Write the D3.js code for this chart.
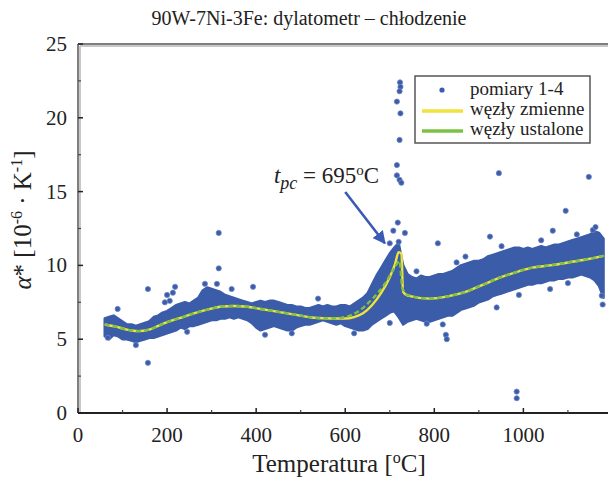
<!DOCTYPE html>
<html><head><meta charset="utf-8">
<script src="https://cdn.jsdelivr.net/npm/d3@7"></script>
<style>
body{margin:0;background:#fff;}
svg{display:block;}
text{font-family:"Liberation Serif","Times New Roman",serif;fill:#222;}
</style>
</head><body>
<svg id="c" width="608" height="477"></svg>
<script>
// ---- data ----
const title = "90W-7Ni-3Fe: dylatometr – chłodzenie";
const xTicks = [0, 200, 400, 600, 800, 1000];
const xMinor = [100, 300, 500, 700, 900, 1100];
const yTicks = [0, 5, 10, 15, 20, 25];
const yMinor = [2.5, 7.5, 12.5, 17.5, 22.5];

// dense measurement band (pomiary 1-4): lower / upper envelope
const bandT  = [60,70,80,90,100,110,120,130,140,150,160,170,180,190,200,210,220,230,240,250,260,270,280,290,300,310,320,330,340,350,360,370,380,390,400,410,420,430,440,450,460,470,480,490,500,510,520,530,540,550,560,570,580,590,600,610,620,630,640,650,660,670,680,690,700,710,720,730,740,750,760,770,780,790,800,810,820,830,840,850,860,870,880,890,900,910,920,930,940,950,960,970,980,990,1000,1010,1020,1030,1040,1050,1060,1070,1080,1090,1100,1110,1120,1130,1140,1150,1160,1170,1180];
const bandLo = [5.2,5.0,5.3,5.2,5.0,5.0,4.9,4.8,4.9,5.0,5.1,5.1,5.2,5.3,5.4,5.5,5.6,5.8,5.7,5.9,5.9,6.0,6.1,6.2,6.3,6.3,6.4,6.4,6.5,6.4,6.5,6.4,6.3,6.1,5.8,5.6,5.7,5.8,5.9,5.8,5.7,5.6,5.6,5.8,5.9,6.0,6.0,6.1,6.2,6.3,6.2,6.1,6.0,6.1,5.9,5.8,5.7,5.6,5.6,5.7,6.0,6.2,6.4,6.6,6.8,6.9,6.5,6.0,6.2,6.3,6.4,6.3,6.2,6.2,6.3,6.4,6.5,6.6,6.6,6.8,7.0,7.1,7.2,7.3,7.5,7.6,7.7,7.9,8.0,8.1,8.2,8.3,8.4,8.5,8.6,8.7,8.7,8.8,8.8,8.9,9.0,9.0,9.1,9.1,9.2,9.2,9.3,9.4,9.3,9.2,9.0,8.6,7.8];
const bandHi = [6.4,6.5,6.6,6.4,6.2,6.0,6.0,5.9,6.0,6.1,6.2,6.5,6.6,6.8,6.9,7.1,7.3,7.4,7.5,7.4,7.6,7.8,8.3,8.5,8.4,8.3,8.2,8.0,7.9,7.8,7.7,7.6,7.5,7.4,7.5,7.6,7.5,7.6,7.6,7.5,7.4,7.3,7.3,7.2,7.2,7.1,7.1,7.2,7.3,7.2,7.3,7.2,7.2,7.3,7.3,7.2,7.4,7.6,7.8,8.1,8.7,9.3,9.8,10.3,10.8,11.2,11.5,10.0,9.4,9.2,9.1,9.3,9.2,9.2,9.3,9.4,9.4,9.5,9.6,9.8,10.0,10.1,10.2,10.3,10.3,10.4,10.6,10.7,10.8,10.9,11.0,11.1,11.2,11.2,11.1,11.2,11.1,11.2,11.3,11.2,11.3,11.4,11.4,11.5,11.6,11.7,11.8,11.9,12.0,12.1,12.3,12.2,11.8];

// isolated measurement points (T, alpha)
const outliers = [
 [89,7.05],[157,8.4],[157,3.4],[67,5.1],[218,8.55],[213,8.15],[206,7.6],[195,7.5],[200,8.0],
 [285,8.75],[312,8.75],[316,12.2],[316,9.8],[345,8.4],[393,8.55],[245,5.5],[539,7.75],
 [723,22.4],[724,22.1],[722,21.8],[716,21.1],[724,20.3],[722,18.5],[716,16.8],[716,16.1],
 [722,15.8],[726,15.6],[718,12.9],[708,12.35],[734,12.2],[720,11.6],[700,11.5],[808,11.5],
 [945,16.25],[1147,16.0],[1095,13.7],[1066,12.35],[925,11.95],[951,11.3],[940,7.15],
 [826,5.3],[828,5.0],[783,6.05],[819,6.0],[1178,7.35],[1176,7.95],[1156,12.4],[1162,12.6],
 [985,1.45],[985,1.0],[870,10.6],[1040,11.7],[1120,12.1],[760,9.6],[850,10.2],[1060,8.4],
 [1100,8.8],[700,6.1],[620,5.4],[480,5.4],[420,5.3],[130,4.6],[990,8.0]
];

// fitted curves
const greenT = [60,85,110,135,160,180,200,230,260,290,320,350,380,410,450,490,530,570,600,630,660,690,710,722,728,740,790,830,870,910,950,990,1020,1060,1100,1140,1180];
const greenV = [6.0,5.85,5.65,5.55,5.65,5.9,6.15,6.45,6.75,7.0,7.2,7.25,7.2,7.05,6.85,6.65,6.45,6.4,6.5,6.9,7.7,8.8,9.8,10.3,8.5,8.0,7.75,7.9,8.2,8.7,9.2,9.6,9.85,10.0,10.2,10.4,10.65];
const yellowT = [60,85,110,135,160,180,200,230,260,290,320,350,380,410,450,490,530,570,600,620,640,660,680,700,712,720,726,730,740,790,830,870,910,950,990,1020,1060,1100,1140,1180];
const yellowV = [6.0,5.85,5.65,5.55,5.65,5.9,6.15,6.45,6.75,7.0,7.2,7.25,7.2,7.05,6.85,6.65,6.45,6.4,6.4,6.5,6.75,7.3,8.1,9.2,10.1,10.9,10.8,8.2,7.95,7.75,7.9,8.2,8.7,9.2,9.6,9.85,10.0,10.2,10.4,10.65];

const legendLabels = ["pomiary 1-4", "węzły zmienne", "węzły ustalone"];

// ---- drawing ----
const svg = d3.select("#c");
const W = 608, H = 477;
const m = {l: 78, r: 0, t: 44, b: 64};
const x = d3.scaleLinear().domain([0, 1190]).range([m.l, W - m.r]);
const y = d3.scaleLinear().domain([0, 25]).range([H - m.b, m.t]);
const blue = "#3b5ca9";

// title
svg.append("text").attr("x", 309).attr("y", 25).attr("text-anchor", "middle")
  .style("font-size", "20px").text(title);

// band
const bandData = bandT.map((t, i) => ({t, lo: bandLo[i], hi: bandHi[i]}));
svg.append("path").datum(bandData)
  .attr("d", d3.area().x(d => x(d.t)).y0(d => y(d.lo)).y1(d => y(d.hi)))
  .attr("fill", blue).attr("stroke", blue).attr("stroke-width", 2.5).attr("stroke-linejoin", "round");

// outlier points
svg.append("g").selectAll("circle").data(outliers).join("circle")
  .attr("cx", d => x(d[0])).attr("cy", d => y(d[1])).attr("r", 2.6)
  .attr("fill", blue).attr("stroke", "#6f86c4").attr("stroke-width", 0.8);

// curves
const yellowData = yellowT.map((t, i) => [t, yellowV[i]]);
const greenData = greenT.map((t, i) => [t, greenV[i]]);
const line = d3.line().x(d => x(d[0])).y(d => y(d[1])).curve(d3.curveMonotoneX);
svg.append("path").datum(yellowData).attr("d", line).attr("fill", "none")
  .attr("stroke", "#f2e23c").attr("stroke-width", 2.4);
svg.append("path").datum(greenData).attr("d", line).attr("fill", "none")
  .attr("stroke", "#7cc242").attr("stroke-width", 2.4).attr("stroke-dasharray", "5,3");

// axes frame
const x0 = x(0), y0 = y(0), yTop = y(25);
svg.append("line").attr("x1", x0 + 2).attr("x2", W).attr("y1", yTop + 2).attr("y2", yTop + 2).attr("stroke", "#c8c8c8").attr("stroke-width", 2);
svg.append("line").attr("x1", x0 + 2).attr("x2", x0 + 2).attr("y1", yTop + 2).attr("y2", y0).attr("stroke", "#c8c8c8").attr("stroke-width", 2);
svg.append("line").attr("x1", x0).attr("x2", W).attr("y1", yTop).attr("y2", yTop).attr("stroke", "#555").attr("stroke-width", 1.5);
svg.append("line").attr("x1", x0).attr("x2", x0).attr("y1", yTop).attr("y2", y0).attr("stroke", "#555").attr("stroke-width", 1.5);
svg.append("line").attr("x1", x0).attr("x2", W).attr("y1", y0).attr("y2", y0).attr("stroke", "#222").attr("stroke-width", 2);

// ticks
const gx = svg.append("g");
gx.selectAll("line.maj").data(xTicks).join("line").attr("x1", d => x(d)).attr("x2", d => x(d))
  .attr("y1", y0).attr("y2", y0 - 5).attr("stroke", "#222").attr("stroke-width", 1.5);
gx.selectAll("line.min").data(xMinor).join("line").attr("x1", d => x(d)).attr("x2", d => x(d))
  .attr("y1", y0).attr("y2", y0 - 3).attr("stroke", "#444").attr("stroke-width", 1.2);
gx.selectAll("text").data(xTicks).join("text").attr("x", d => x(d)).attr("y", y0 + 29)
  .attr("text-anchor", "middle").style("font-size", "21px").text(d => d);

const gy = svg.append("g");
gy.selectAll("line.maj").data(yTicks).join("line").attr("x1", x0).attr("x2", x0 + 5)
  .attr("y1", d => y(d)).attr("y2", d => y(d)).attr("stroke", "#222").attr("stroke-width", 1.5);
gy.selectAll("line.min").data(yMinor).join("line").attr("x1", x0).attr("x2", x0 + 3)
  .attr("y1", d => y(d)).attr("y2", d => y(d)).attr("stroke", "#444").attr("stroke-width", 1.2);
gy.selectAll("text").data(yTicks).join("text").attr("x", x0 - 11).attr("y", d => y(d) + 7)
  .attr("text-anchor", "end").style("font-size", "21px").text(d => d);

// x axis title
const xt = svg.append("text").attr("x", 339).attr("y", 472).attr("text-anchor", "middle").style("font-size", "25px");
xt.append("tspan").text("Temperatura [");
xt.append("tspan").attr("dy", -9).style("font-size", "16px").text("o");
xt.append("tspan").attr("dy", 9).text("C]");

// y axis title
const yt = svg.append("text").attr("transform", "translate(31,220) rotate(-90)")
  .attr("text-anchor", "middle").style("font-size", "25px");
yt.append("tspan").style("font-style", "italic").text("α");
yt.append("tspan").text("* [10");
yt.append("tspan").attr("dy", -9).style("font-size", "16px").text("-6");
yt.append("tspan").attr("dy", 9).text(" · K");
yt.append("tspan").attr("dy", -9).style("font-size", "16px").text("-1");
yt.append("tspan").attr("dy", 9).text("]");

// annotation
const ann = svg.append("text").attr("x", x(440)).attr("y", y(15.6)).style("font-size", "23px");
ann.append("tspan").style("font-style", "italic").text("t");
ann.append("tspan").attr("dy", 6).style("font-style", "italic").style("font-size", "18px").text("pc");
ann.append("tspan").attr("dy", -6).text(" = 695");
ann.append("tspan").attr("dy", -8).style("font-size", "15px").text("o");
ann.append("tspan").attr("dy", 8).text("C");

svg.append("defs").append("marker").attr("id", "ah").attr("viewBox", "0 0 10 10")
  .attr("refX", 9).attr("refY", 5).attr("markerWidth", 5).attr("markerHeight", 5)
  .attr("orient", "auto").attr("markerUnits", "strokeWidth")
  .append("path").attr("d", "M0,0 L10,5 L0,10 z").attr("fill", "#3a5bb3");
svg.append("line").attr("x1", x(600)).attr("y1", y(14.97)).attr("x2", x(689)).attr("y2", y(11.5))
  .attr("stroke", "#3a5bb3").attr("stroke-width", 2.6).attr("marker-end", "url(#ah)");

// legend
const lg = svg.append("g");
lg.append("rect").attr("x", 415).attr("y", 76).attr("width", 175).attr("height", 67)
  .attr("fill", "#fff").attr("stroke", "#555").attr("stroke-width", 1.5);
lg.append("circle").attr("cx", 442).attr("cy", 90).attr("r", 2.6).attr("fill", blue);
lg.append("line").attr("x1", 422).attr("x2", 463).attr("y1", 111).attr("y2", 111).attr("stroke", "#f2e23c").attr("stroke-width", 3.5);
lg.append("line").attr("x1", 422).attr("x2", 463).attr("y1", 131).attr("y2", 131).attr("stroke", "#7cc242").attr("stroke-width", 3.5);
lg.selectAll("text").data(legendLabels).join("text").attr("x", 470).attr("y", (d, i) => 95 + i * 20)
  .style("font-size", "19px").text(d => d);
</script>
</body></html>
